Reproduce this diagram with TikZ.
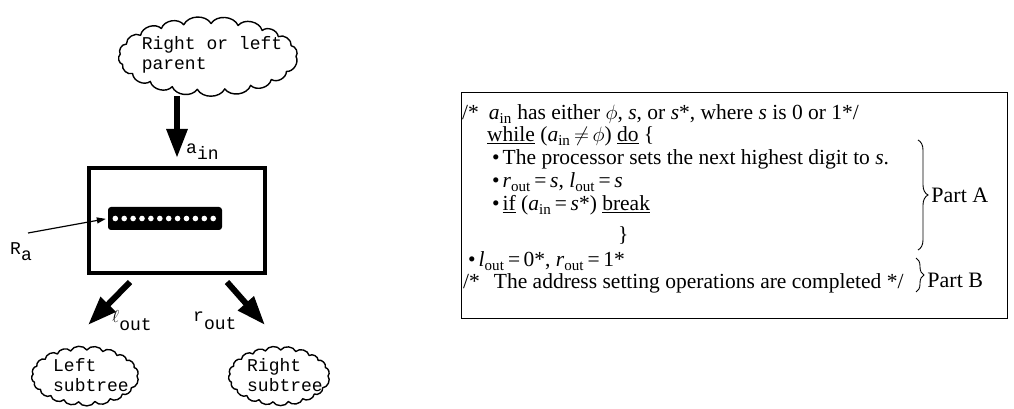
\documentclass[tikz,border=0pt]{standalone}
\usepackage{fontspec}
\setmainfont{Liberation Serif}
\setmonofont{Liberation Mono}
\usetikzlibrary{arrows.meta}
\usetikzlibrary{decorations.pathreplacing}

\tikzset{
  cloudline/.style={line width=1.4pt, line join=round},
  tt/.style={font=\fontsize{18}{20}\selectfont\ttfamily, inner sep=0pt},
  bigarrow/.style={line width=6pt, -{Triangle[length=29pt,width=20pt]}},
  codeline/.style={font=\fontsize{21.5}{23}\selectfont, anchor=base west, inner sep=0pt},
  part/.style={font=\fontsize{22}{24}\selectfont, inner sep=0pt},
}

% bumpy outline round a node: centre, x radius, y radius
\newcommand\puffs[3]{%
  \draw[cloudline, shift={(#1)}] (0:#2pt and #3pt)
    \foreach \a in {19,37,52,70,88,106,122,140,158,176,194,211,229,246,263,281,299,316,333,360}
      {to[bend right=62] (\a:#2pt and #3pt)};
}

\begin{document}
\begin{tikzpicture}[x=1pt,y=1pt]
\useasboundingbox (0,0) rectangle (1014,409);

% processor with its address register
\node[draw, line width=4pt, minimum width=176pt, minimum height=105pt, inner sep=0pt] (proc) at (177,188.5) {};
\node[fill=black, rounded corners=3pt, minimum width=114pt, minimum height=23pt, inner sep=0pt] (reg) at (165,190.5) {};
\foreach \i in {0,...,11}
  \fill[white] (reg.west) ++(7.5+\i*8.9,0) circle (2.8pt);

% parent and the two subtrees
\node[tt, align=left, minimum width=180pt, minimum height=70pt] (parent) at (212,354) {Right or left\\parent};
\puffs{208,352.5}{88}{33}
\node[tt, align=left, minimum width=104pt, minimum height=56pt] (lsub) at (91,34) {Left\\subtree};
\puffs{85,33}{52}{26}
\node[tt, align=left, minimum width=100pt, minimum height=56pt] (rsub) at (285,34) {Right\\subtree};
\puffs{279,33}{49}{26}

% links
\draw[bigarrow, shorten <=6pt, shorten >=8pt] (proc.north |- parent.south) -- (proc.north);
\node[tt, anchor=west] (ain) at (186,257) {a\lower6pt\hbox{in}};

\coordinate (lfoot) at (130,127);
\coordinate (ltip) at (88,84);
\coordinate (rfoot) at (227,127);
\coordinate (rtip) at (265,84);
\draw[bigarrow] (lfoot) -- (ltip);
\draw[bigarrow] (rfoot) -- (rtip);
\node[tt, anchor=west] (lout) at (112,88) {{\fontsize{16}{16}\selectfont$\ell$}\lower8pt\hbox{out}};
\node[tt, anchor=west] (rout) at (193,88) {r\lower8pt\hbox{out}};

\node[tt, anchor=west] (ra) at (10,157) {R\lower6pt\hbox{a}};
\coordinate (ratail) at (28,176);
\draw[line width=1.2pt, -{Triangle[length=9pt,width=6pt]}, shorten >=2pt] (ratail) -- (reg.west);

% the address setting program
\node[draw, line width=0.6pt, minimum width=546pt, minimum height=226pt, inner sep=0pt] (code) at (734,204) {};
\node[codeline] (l1) at (462,289) {/*\hspace{10pt}\textit{a}\textsubscript{in} has either $\phi$, \textit{s}, or \textit{s}*, where \textit{s} is 0 or 1*/};
\node[codeline] (l2) at (487,267) {\underline{while} (\textit{a}\textsubscript{in}\,$\neq$\,$\phi$) \underline{do} \{};
\node[codeline] (l3) at (492,244) {\textbullet\hspace{3pt}The processor sets the next highest digit to \textit{s}.};
\node[codeline] (l4) at (492,221) {\textbullet\hspace{3pt}\textit{r}\textsubscript{out}\,=\,\textit{s}, \textit{l}\textsubscript{out}\,=\,\textit{s}};
\node[codeline] (l5) at (492,198) {\textbullet\hspace{3pt}\underline{if} (\textit{a}\textsubscript{in}\,=\,\textit{s}*) \underline{break}};
\node[codeline] (l6) at (618,167) {\}};
\node[codeline] (l7) at (468,142) {\textbullet\hspace{3pt}\textit{l}\textsubscript{out}\,=\,0*, \textit{r}\textsubscript{out}\,=\,1*};
\node[codeline] (l8) at (463,120) {/*\hspace{14pt}The address setting operations are completed */};

\draw[decorate, decoration={brace, amplitude=10pt}, line width=0.9pt] (918,269) -- (918,159)
  node[midway, right=13pt, part] (parta) {Part A};
\draw[decorate, decoration={brace, amplitude=8pt}, line width=0.9pt] (916,151) -- (916,117)
  node[midway, right=11pt, yshift=-5pt, part] (partb) {Part B};
\end{tikzpicture}
\end{document}
